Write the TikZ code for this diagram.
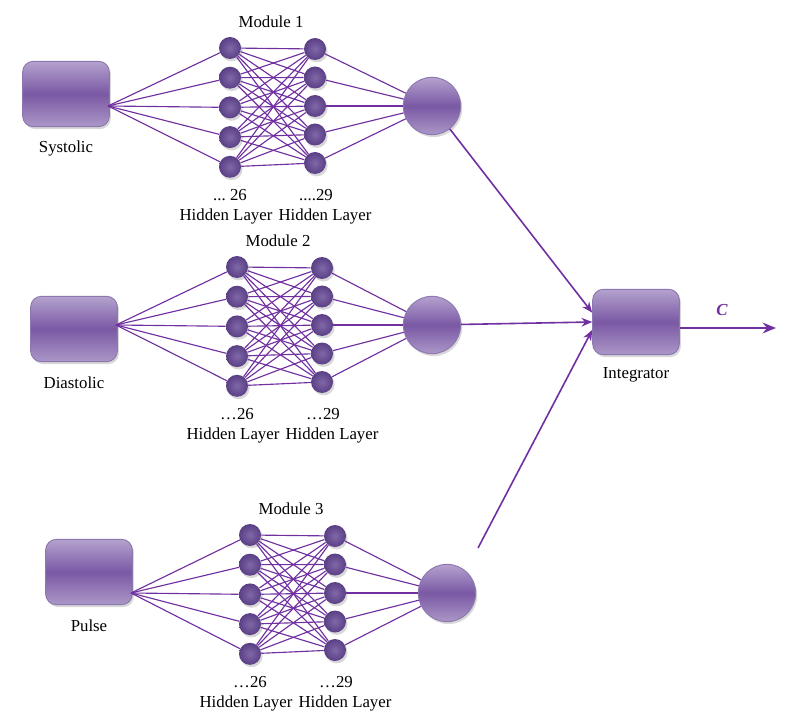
\documentclass[tikz,border=0pt]{standalone}
\usepackage{fontspec}
\setmainfont{Liberation Serif}
\usetikzlibrary{positioning,shadows,arrows.meta}
\definecolor{nnline}{HTML}{7030A0}
\definecolor{boxlight}{HTML}{B4A2CE}
\definecolor{boxdark}{HTML}{7A58A4}
\definecolor{boxedge}{HTML}{8C78B0}
\definecolor{unitin}{HTML}{8068A8}
\definecolor{unitout}{HTML}{5A3F85}
\tikzset{
  softshadow/.style={drop shadow={shadow xshift=1.2pt, shadow yshift=-1.8pt, opacity=0.3}},
  inbox/.style={draw=boxedge, line width=0.7pt, rounded corners=8pt, minimum width=65pt, minimum height=49pt,
    top color=boxlight, bottom color=boxlight!85!boxdark, middle color=boxdark, softshadow},
  unit/.style={circle, minimum size=16.5pt, inner sep=0pt, inner color=unitin, outer color=unitout, softshadow},
  outunit/.style={circle, draw=boxedge, line width=0.7pt, minimum size=43pt, inner sep=0pt,
    top color=boxlight, bottom color=boxlight!85!boxdark, middle color=boxdark, softshadow},
  conn/.style={draw=nnline, line width=0.85pt},
  feed/.style={draw=nnline, line width=1.2pt, -{Stealth[length=8pt,width=6.5pt]}},
  lbl/.style={font=\fontsize{12.6}{14}\selectfont, inner sep=0pt}
}

\begin{document}
\begin{tikzpicture}[x=0.75pt,y=-0.75pt]
  \useasboundingbox[fill=white] (0,0) rectangle (788,727);

  \foreach \m/\inp/\bx/\by/\hx/\ty/\ox/\la/\lb in {
      1/Systolic/66/94/230/48/432/{...\ 26}/{....29},
      2/Diastolic/74/329/237/267/432/{\ldots26}/{\ldots29},
      3/Pulse/89/572/250/535/447/{\ldots26}/{\ldots29}} {
    \node[inbox] (m\m in) at (\bx,\by) {};
    \node[lbl] (m\m inlbl) at (\bx,\by+54) {\inp};
    \coordinate (m\m conv) at (\bx+42,\ty+58);
    \foreach \i in {1,...,5} {
      \node[unit] (m\m a\i) at (\hx,{\ty+(\i-1)*29.7}) {};
      \node[unit] (m\m b\i) at (\hx+85,{\ty+1+(\i-1)*28.5}) {};
    }
    \node[outunit] (m\m out) at (\ox,\ty+58) {};
    \node[lbl] (m\m title) at (\hx+41,\ty-26) {Module \m};
    \node[lbl] (m\m na) at (\hx,\ty+147) {\la};
    \node[lbl] (m\m nb) at (\hx+86,\ty+147) {\lb};
    \node[lbl] (m\m ha) at (\hx-4,\ty+168) {Hidden Layer};
    \node[lbl] (m\m hb) at (\hx+95,\ty+168) {Hidden Layer};
    \foreach \i in {1,...,5} {
      \draw[conn] (m\m conv) -- (m\m a\i);
      \draw[conn] (m\m b\i) -- (m\m out);
      \foreach \j in {1,...,5}
        \draw[conn] (m\m a\i) -- (m\m b\j);
    }
  }

  \node[inbox] (integ) at (636,322) {};
  \node[lbl, below=9pt of integ] (integlbl) {Integrator};
  \coordinate (m3tail) at (478,548);
  \coordinate (cend) at (776,328);

  \draw[feed] (m1out) -- ([yshift=7pt]integ.west);
  \draw[feed] (m2out) -- (integ.west);
  \draw[feed] (m3tail) -- ([yshift=-6pt]integ.west);
  \draw[draw=nnline, line width=2.2pt, -{Stealth[length=10pt,width=8pt]}] ([yshift=-4.5pt]integ.east) -- (cend);
  \node[lbl, text=nnline] (clbl) at (722,310) {\textbf{\textit{C}}};
\end{tikzpicture}
\end{document}
